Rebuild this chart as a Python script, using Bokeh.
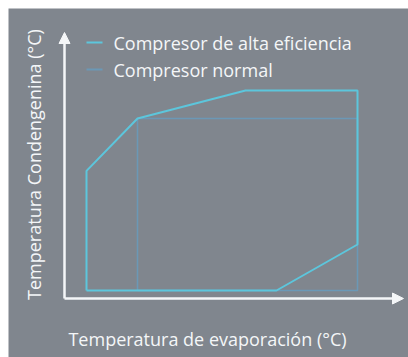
import math
from bokeh.plotting import figure
from bokeh.models import Range1d, Arrow, NormalHead
from bokeh.core.properties import value
from bokeh.embed import file_html
from bokeh.resources import INLINE

# Operating envelopes (evaporation temp, condensing temp) in arbitrary units
alta_x = [5.5, 5.5, 18.25, 45.25, 73.25, 73.25, 53.0, 5.5]
alta_y = [2.0, 31.9, 45.0, 52.0, 52.0, 13.5, 2.0, 2.0]
normal_x = [18.25, 18.25, 73.25, 73.25, 18.25]
normal_y = [2.0, 45.0, 45.0, 2.0, 2.0]

series_names = ["Compresor de alta eficiencia", "Compresor normal"]
x_label = "Temperatura de evaporación (°C)"
y_label = "Temperatura Condengenina (°C)"

BG = "#80868e"
CYAN = "#5cc6dc"
BLUE = "#6b98b6"
WHITE = "#f4f6f8"
FONT = "Open Sans"
FS = "18px"

p = figure(width=408, height=357, output_backend="svg", toolbar_location=None,
           x_range=Range1d(-14, 86), y_range=Range1d(-14.75, 72.5),
           min_border_left=8, min_border_top=8, min_border_right=0, min_border_bottom=0,
           outline_line_color=None)
p.background_fill_color = BG
p.border_fill_color = "white"
p.axis.visible = False
p.grid.visible = False

# normal compressor envelope
p.line(normal_x, normal_y, line_color=BLUE, line_width=1.5)
# high efficiency envelope
p.line(alta_x, alta_y, line_color=CYAN, line_width=2)

# axes with arrows
p.add_layout(Arrow(x_start=0, y_start=0, x_end=84.75, y_end=0, line_color=WHITE, line_width=2.5,
                   end=NormalHead(size=11, fill_color=WHITE, line_color=WHITE)))
p.add_layout(Arrow(x_start=0, y_start=0, x_end=0, y_end=66.5, line_color=WHITE, line_width=2.5,
                   end=NormalHead(size=11, fill_color=WHITE, line_color=WHITE)))

# legend
leg_y = [64.0, 57.25]
leg_colors = [CYAN, BLUE]
for yy, col, name in zip(leg_y, leg_colors, series_names):
    p.segment(x0=[5.5], y0=[yy], x1=[9.5], y1=[yy], line_color=col, line_width=2)
    p.text(x=[12.25], y=[yy], text=[name], text_color=WHITE, text_font=value(FONT),
           text_font_size=FS, text_baseline="middle", text_align="left")

# axis labels
p.text(x=[35.75], y=[-10], text=[x_label], text_color=WHITE, text_font=value(FONT),
       text_font_size=FS, text_baseline="middle", text_align="center")
p.text(x=[-7.75], y=[33.5], text=[y_label], angle=math.pi / 2, text_color=WHITE,
       text_font=value(FONT), text_font_size=FS, text_baseline="middle", text_align="center")

open("out.html", "w").write(file_html(p, INLINE))
